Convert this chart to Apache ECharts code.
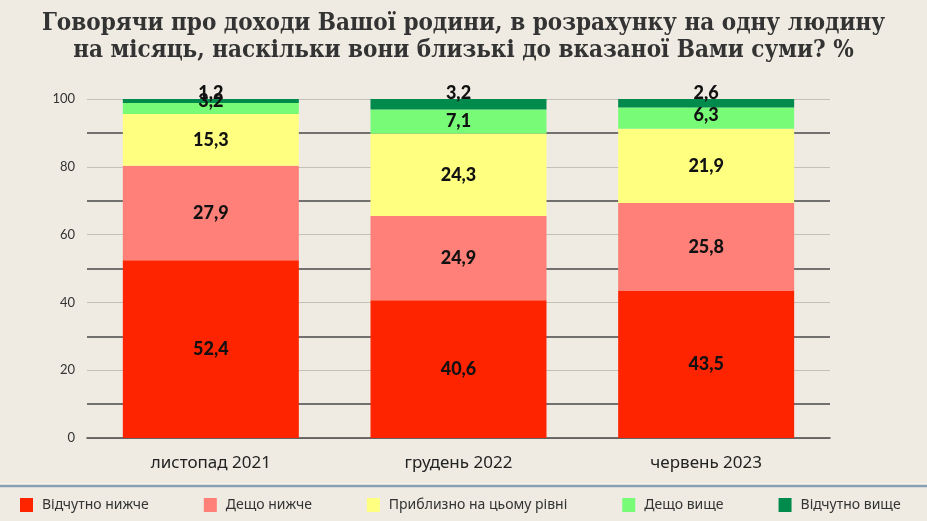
<!DOCTYPE html>
<html>
<head>
<meta charset="utf-8">
<script src="https://cdn.jsdelivr.net/npm/echarts@6/dist/echarts.min.js"></script>
<style>
    html, body {
        margin: 0;
        padding: 0;
        background: #efebe2;
    }
    #chart {
        width: 927px;
        height: 521px;
    }
</style>
</head>
<body>
<div id="chart"></div>
<script>
// дані з опитування, %
var periods = ['листопад 2021', 'грудень 2022', 'червень 2023'];
var seriesNames = ['Відчутно нижче', 'Дещо нижче', 'Приблизно на цьому рівні', 'Дещо вище', 'Відчутно вище'];
var muchLower = [52.4, 40.6, 43.5];
var slightlyLower = [27.9, 24.9, 25.8];
var sameLevel = [15.3, 24.3, 21.9];
var slightlyHigher = [3.2, 7.1, 6.3];
var muchHigher = [1.2, 3.2, 2.6];
var yTicks = [0, 20, 40, 60, 80, 100];

var colors = ['#ff2400', '#ff8078', '#ffff80', '#78fc78', '#008a4c'];
var values = [muchLower, slightlyLower, sameLevel, slightlyHigher, muchHigher];

var myChart = echarts.init(document.getElementById('chart'));

var series = values.map(function (vals, i) {
    return {
        name: seriesNames[i],
        type: 'bar',
        stack: 'total',
        barWidth: 176,
        itemStyle: { color: colors[i] },
        data: vals.map(function (v, j) {
            var item = { value: v };
            // мітки малих сегментів трохи вище
            if (i === 3 && j === 0) item.label = { offset: [0, -7] };
            if (i === 3 && j === 2) item.label = { offset: [0, -3] };
            return item;
        }),
        label: {
            show: true,
            position: i === 4 ? 'top' : 'inside',
            distance: i === 4 ? -3 : 5,
            color: '#111',
            fontSize: 18,
            fontWeight: 900,
            fontFamily: 'Lato, "Open Sans", sans-serif',
            formatter: function (p) {
                return String(p.value).replace('.', ',');
            }
        }
    };
});

myChart.setOption({
    backgroundColor: '#efebe2',
    animation: false,
    title: {
        text: 'Говорячи про доходи Вашої родини, в розрахунку на одну людину\nна місяць, наскільки вони близькі до вказаної Вами суми? %',
        left: 'center',
        top: 5,
        textStyle: {
            color: '#333',
            fontSize: 24,
            fontWeight: 'bold',
            lineHeight: 27,
            fontFamily: '"DejaVu Serif Condensed", "DejaVu Serif", serif'
        }
    },
    legend: {
        bottom: 4,
        left: 15,
        itemWidth: 13,
        itemHeight: 14,
        itemGap: 55,
        icon: 'rect',
        textStyle: {
            color: '#333',
            fontSize: 14,
            padding: [0, 0, 0, 4],
            fontFamily: '"Liberation Sans Narrow", "Noto Sans", sans-serif'
        },
        data: seriesNames
    },
    grid: {
        left: 87,
        right: 97,
        top: 99,
        bottom: 83
    },
    xAxis: {
        type: 'category',
        data: periods,
        axisTick: { show: false },
        axisLine: { lineStyle: { color: '#444', width: 1.5 } },
        axisLabel: {
            color: '#222',
            fontSize: 17,
            margin: 17,
            fontFamily: '"Liberation Sans Narrow", "Noto Sans", sans-serif'
        }
    },
    yAxis: {
        type: 'value',
        min: yTicks[0],
        max: yTicks[yTicks.length - 1],
        interval: 20,
        axisLine: { show: false },
        axisTick: { show: false },
        axisLabel: {
            color: '#333',
            fontSize: 13,
            margin: 12,
            fontFamily: 'Lato, sans-serif'
        },
        splitLine: { lineStyle: { color: '#c4c0b8', width: 1 } },
        minorTick: { show: false, splitNumber: 2 },
        minorSplitLine: { show: true, lineStyle: { color: '#4a4a4a', width: 1.5 } }
    },
    graphic: [
        {
            type: 'line',
            shape: { x1: 0, y1: 484, x2: 927, y2: 484 },
            style: { stroke: '#fbfaf6', lineWidth: 1 },
            silent: true
        },
        {
            type: 'line',
            shape: { x1: 0, y1: 486, x2: 927, y2: 486 },
            style: { stroke: '#86a0b4', lineWidth: 2.5 },
            silent: true
        }
    ],
    series: series
});
</script>
</body>
</html>
